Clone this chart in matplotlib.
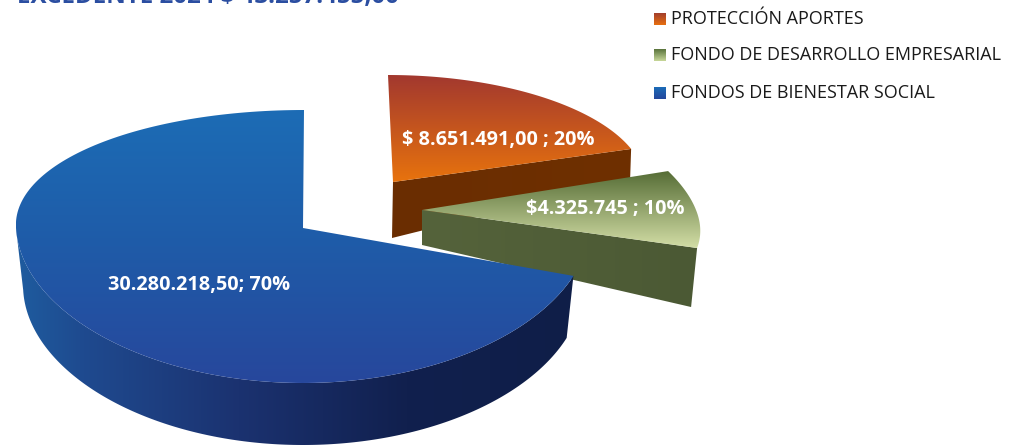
import numpy as np
import matplotlib
matplotlib.use('Agg')
import matplotlib.pyplot as plt
from matplotlib.colors import LinearSegmentedColormap
from matplotlib.patches import Polygon

plt.rcParams['font.family'] = ['Open Sans', 'DejaVu Sans']

# Data
title = 'EXCEDENTE 2024 $ 43.257.455,00'
categories = ['PROTECCIÓN APORTES', 'FONDO DE DESARROLLO EMPRESARIAL', 'FONDOS DE BIENESTAR SOCIAL']
values = [8651491.00, 4325745.00, 30280218.50]
value_labels = ['$ 8.651.491,00 ; 20%', '$4.325.745 ; 10%', '30.280.218,50; 70%']

top_colors = [['#a2382f', '#e8730d'], ['#566d36', '#d3dea6'], ['#1c6cb5', '#1f5ba8', '#27479c']]
side_colors = [['#6a2d02', '#6f3000'], ['#55633b', '#4b5934'],
               [(0, '#1e5c9f'), (0.12, '#1f4a8f'), (0.4, '#1b3270'), (0.7, '#11204e'), (1, '#0f1e48')]]
legend_colors = [['#9c3a30', '#e8700f'], ['#4f6a33', '#c8d89a'], ['#1b6fba', '#24479c']]

# Projection of each slice: apex, radii, perspective, bottom face
slice_geom = [
    dict(ax=393, ay=182, rx=252, px=0.0, ry_back=107, ry_front=113, skew=-5,
         depth_back=30, depth_front=56, shrink=1.0),
    dict(ax=422, ay=210, rx=274, px=0.18, ry_back=126, ry_front=123, skew=0,
         depth_back=35, depth_front=59, shrink=0.98),
    dict(ax=303, ay=228, rx=287, px=-0.03, ry_back=118, ry_front=155, skew=1,
         depth_back=62, depth_front=62, shrink=0.975),
]


def rim(g, a0, a1, bottom=False):
    t = np.radians(np.linspace(a0, a1, 200))
    s = np.sin(t)
    ry = np.where(s > 0, g['ry_back'], g['ry_front'])
    x = g['rx'] * np.cos(t) * (1 - g['px'] * s) + g['skew'] * np.clip(s, 0, 1)
    y = -ry * s
    if bottom:
        x = x * g['shrink']
        y = y + g['depth_front']
    return np.column_stack([g['ax'] + x, g['ay'] + y])


def fill_gradient(ax, pts, colors, horizontal=False, zorder=1):
    cmap = LinearSegmentedColormap.from_list('g', colors)
    grad = np.linspace(0, 1, 256)
    grad = grad[None, :] if horizontal else grad[:, None]
    x0, x1 = pts[:, 0].min(), pts[:, 0].max()
    y0, y1 = pts[:, 1].min(), pts[:, 1].max()
    im = ax.imshow(grad, cmap=cmap, extent=(x0, x1, y1, y0), aspect='auto',
                   zorder=zorder, interpolation='bilinear')
    patch = Polygon(pts, closed=True, transform=ax.transData, fc='none', ec='none')
    ax.add_patch(patch)
    im.set_clip_path(patch)


fig = plt.figure(figsize=(10.1, 4.45), dpi=100)
ax = fig.add_axes([0, 0, 1, 1])

# Slice angles come from the values: blue starts at 12 o'clock, counterclockwise
total = sum(values)
spans = [v / total * 360 for v in values]
blue_end = 90 + spans[2]
green_end = blue_end + spans[1]
red_end = green_end + spans[0]
angles = [(green_end - 360, red_end - 360), (blue_end - 360, green_end - 360), (90, blue_end)]

# red and green: only the straight front face of the cut shows
for i in [0, 1]:
    g = slice_geom[i]
    a0, a1 = angles[i]
    corner = rim(g, a0, a0)[0]
    apex = np.array([g['ax'], g['ay']])
    corner_low = corner + [-(1 if i == 0 else 6), g['depth_back'] if i == 0 else g['depth_front']]
    apex_low = apex + [-1 if i == 0 else 0, g['depth_front'] if i == 0 else g['depth_back']]
    face = np.array([apex, corner, corner_low, apex_low])
    fill_gradient(ax, face, side_colors[i], horizontal=True, zorder=2 + i * 2)
    top = np.vstack([apex, rim(g, a0, a1)])
    fill_gradient(ax, top, top_colors[i], zorder=3 + i * 2)

# blue: curved outer wall, then top
g = slice_geom[2]
a0, a1 = angles[2]
wall = np.vstack([rim(g, 180, a1), rim(g, 180, a1, bottom=True)[::-1]])
fill_gradient(ax, wall, side_colors[2], horizontal=True, zorder=6)
top = np.vstack([[g['ax'], g['ay']], rim(g, a0, a1)])
fill_gradient(ax, top, top_colors[2], zorder=7)

label_xy = [(498, 140), (605, 209), (199, 285)]
for (x, y), txt in zip(label_xy, value_labels):
    ax.text(x, y, txt, color='white', fontsize=14.3, fontweight='bold',
            ha='center', va='center', zorder=10)

# Legend
legend_y = [19, 55, 93]
for y, name, cols in zip(legend_y, categories, legend_colors):
    pts = np.array([[654, y - 6.5], [666, y - 6.5], [666, y + 6.5], [654, y + 6.5]])
    fill_gradient(ax, pts, cols, zorder=8)
    ax.text(671, y, name, color='#1a1a1a', fontsize=13, ha='left', va='center', zorder=10)

# Title is cut by the top edge in the reference
ax.text(17, 3, title, color='#2b4ea1', fontsize=17.4, fontweight='bold',
        ha='left', va='baseline', zorder=10)

ax.set_xlim(0, 1010)
ax.set_ylim(445, 0)
ax.axis('off')
fig.savefig('out.png', dpi=100)
